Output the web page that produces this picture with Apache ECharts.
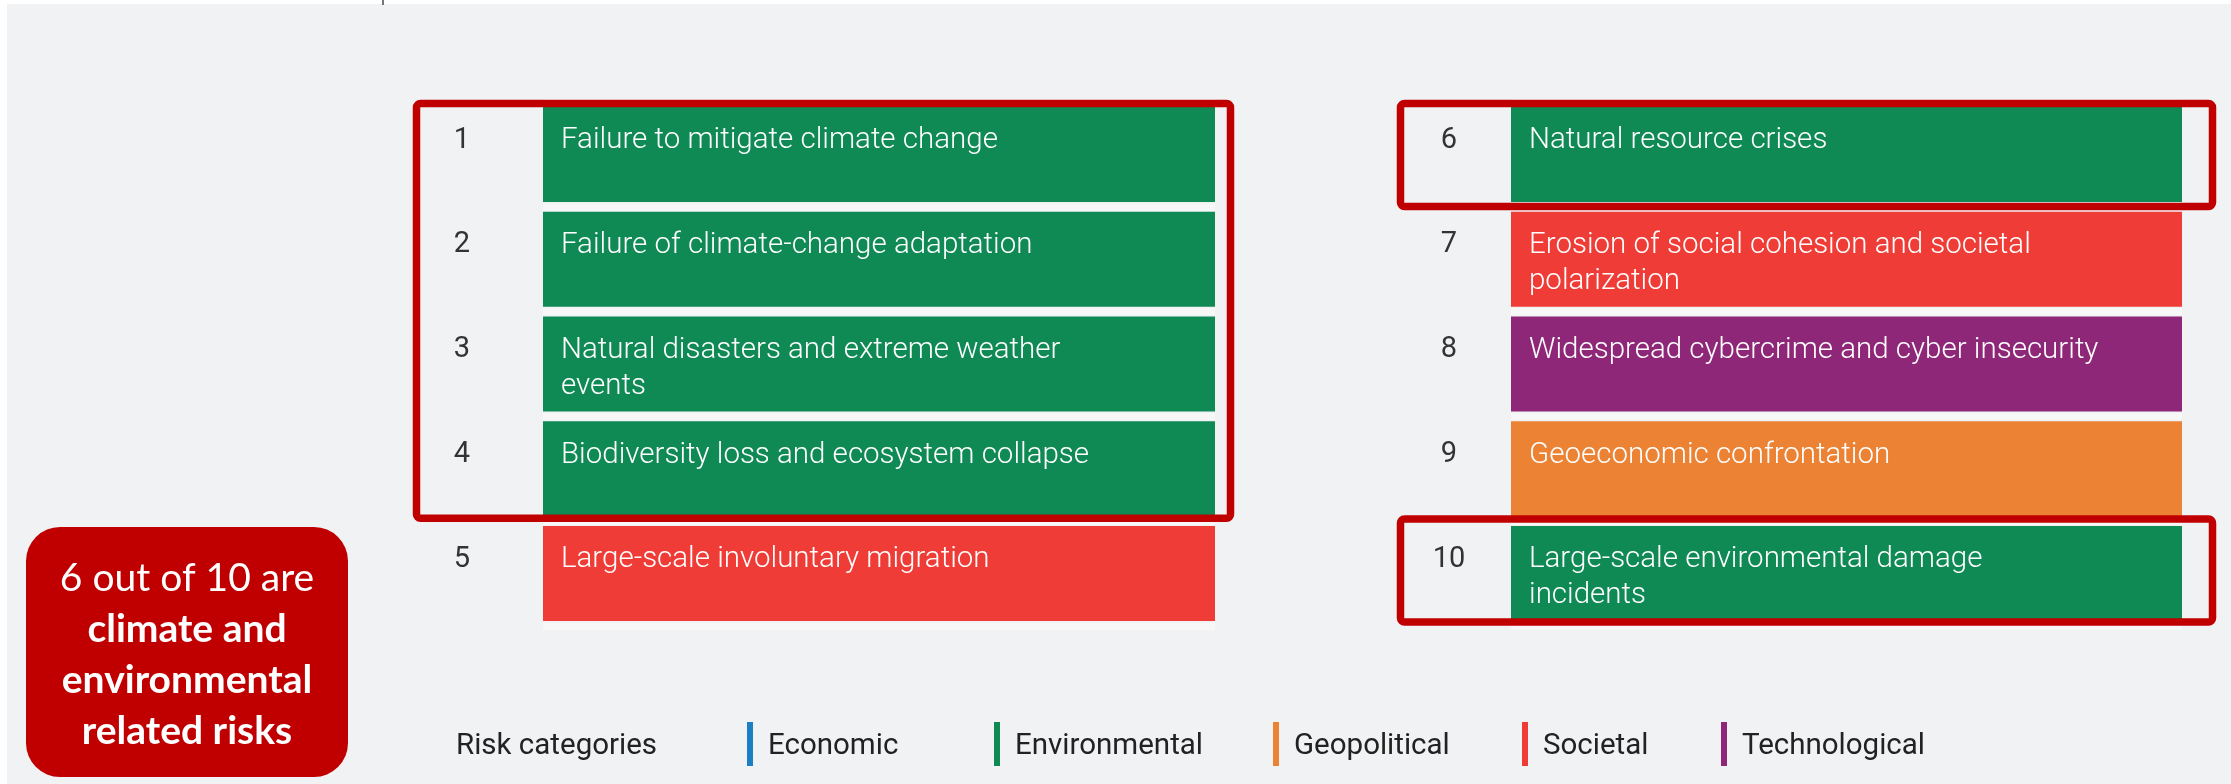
<!DOCTYPE html>
<html>
<head>
<meta charset="utf-8">
<script src="https://cdn.jsdelivr.net/npm/echarts@6/dist/echarts.min.js"></script>
<style>
html,body{margin:0;padding:0;background:#ffffff;}
#c{width:2231px;height:784px;}
</style>
</head>
<body>
<div id="c"></div>
<script>
// ---------- data ----------
const ranks = ['1','2','3','4','5','6','7','8','9','10'];
const risks = [
  'Failure to mitigate climate change',
  'Failure of climate-change adaptation',
  'Natural disasters and extreme weather\nevents',
  'Biodiversity loss and ecosystem collapse',
  'Large-scale involuntary migration',
  'Natural resource crises',
  'Erosion of social cohesion and societal\npolarization',
  'Widespread cybercrime and cyber insecurity',
  'Geoeconomic confrontation',
  'Large-scale environmental damage\nincidents'
];
const riskCategory = ['Environmental','Environmental','Environmental','Environmental','Societal',
                      'Environmental','Societal','Technological','Geopolitical','Environmental'];
const barLength = [1,1,1,1,1,1,1,1,1,1];
const categories = ['Economic','Environmental','Geopolitical','Societal','Technological'];
const categoryColors = ['#1b7fc6','#0f8a55','#ec8233','#ef3c36','#8e2777'];
const legendTitle = 'Risk categories';
const calloutLines = ['6 out of 10 are','climate and','environmental','related risks'];
// highlighted rank ranges (inclusive, 1-based)
const highlighted = [[1,4],[6,6],[10,10]];

// ---------- layout ----------
const GRID_TOP = 102, GRID_H = 524, BAR_W = 95;
const grids = [
  {left: 543, width: 672, numMargin: 81},
  {left: 1511, width: 671, numMargin: 62}
];
const FONT = 'Roboto';

const chart = echarts.init(document.getElementById('c'), null, {renderer: 'canvas'});

const series = [];
grids.forEach((g, gi) => {
  categories.forEach((cat, ci) => {
    const data = [];
    for (let k = 0; k < 5; k++) {
      const idx = gi * 5 + k;
      data.push(riskCategory[idx] === cat ? barLength[idx] : '-');
    }
    series.push({
      type: 'bar',
      name: cat,
      xAxisIndex: gi,
      yAxisIndex: gi,
      data: data,
      barWidth: BAR_W,
      barGap: '-100%',
      itemStyle: {color: categoryColors[ci]},
      silent: true,
      label: {
        show: true,
        position: [18, 16],
        color: '#ffffff',
        fontFamily: FONT,
        fontWeight: 300,
        fontSize: 29.5,
        lineHeight: 36,
        formatter: p => risks[gi * 5 + p.dataIndex]
      }
    });
  });
});

const legends = [];
const legendLefts = [747, 994, 1273, 1522, 1721];
categories.forEach((cat, ci) => {
  legends.push({
    data: [cat],
    left: legendLefts[ci],
    top: 722,
    padding: 0,
    icon: 'rect',
    itemWidth: 6,
    itemHeight: 44,
    selectedMode: false,
    formatter: '{t|{name}}',
    textStyle: {
      color: '#222', fontFamily: FONT, fontSize: 29.5, fontWeight: 400, padding: [0, 0, 0, 10],
      rich: {t: {color: '#222', fontFamily: FONT, fontSize: 29.5, fontWeight: 400, padding: [6, 0, 0, 0]}}
    }
  });
});

const option = {
  backgroundColor: 'transparent',
  animation: false,
  grid: grids.map(g => ({left: g.left, width: g.width, top: GRID_TOP, height: GRID_H, containLabel: false})),
  xAxis: grids.map((g, gi) => ({gridIndex: gi, type: 'value', min: 0, max: 1, show: false})),
  yAxis: grids.map((g, gi) => ({
    gridIndex: gi,
    type: 'category',
    inverse: true,
    data: ranks.slice(gi * 5, gi * 5 + 5),
    axisLine: {show: false},
    axisTick: {show: false},
    splitLine: {show: true, lineStyle: {color: '#f6f7f6', width: 7}},
    axisLabel: {
      margin: g.numMargin,
      align: 'center',
      verticalAlign: 'bottom',
      lineHeight: 28,
      color: '#333',
      fontFamily: FONT,
      fontSize: 29
    }
  })),
  legend: legends,
  series: series,
  graphic: [
    {type: 'rect', z: -10, silent: true, shape: {x: 7, y: 4, width: 2231, height: 784}, style: {fill: '#f1f2f4'}},
    {type: 'line', silent: true, shape: {x1: 383, y1: 0, x2: 383, y2: 5}, style: {stroke: '#777', lineWidth: 2}},
    {type: 'text', silent: true, x: 456, y: 747,
      style: {text: legendTitle, fill: '#222', font: '400 29.5px ' + FONT, textVerticalAlign: 'middle', textAlign: 'left'}},
    {type: 'group', silent: true, children: [
      {type: 'rect', shape: {x: 26, y: 527, width: 322, height: 250, r: 34}, style: {fill: '#c00000'}},
      {type: 'text', x: 187, y: 655, style: {
        text: '{a|' + calloutLines[0] + '}\n' + calloutLines.slice(1).map(s => '{b|' + s + '}').join('\n'),
        textAlign: 'center', textVerticalAlign: 'middle',
        rich: {
          a: {fill: '#fff', fontFamily: 'Lato', fontWeight: 400, fontSize: 39, lineHeight: 51},
          b: {fill: '#fff', fontFamily: 'Lato', fontWeight: 700, fontSize: 39, lineHeight: 51}
        }
      }}
    ]}
  ]
};
chart.setOption(option);

// ---------- annotation boxes derived from the axes ----------
const boxPads = [
  {l: 126.5, r: 15.5, t: 3.5, b: 2},
  {l: 110.5, r: 30.5, t: 3.5, b: 4.5},
  {l: 110.5, r: 30.5, t: 7, b: 1}
];
const boxes = highlighted.map((rg, bi) => {
  const gi = rg[0] <= 5 ? 0 : 1;
  const g = grids[gi];
  const y1 = chart.convertToPixel({yAxisIndex: gi}, (rg[0] - 1) % 5) - BAR_W / 2;
  const y2 = chart.convertToPixel({yAxisIndex: gi}, (rg[1] - 1) % 5) + BAR_W / 2;
  const p = boxPads[bi];
  const x1 = g.left - p.l, x2 = g.left + g.width + p.r;
  return {
    type: 'rect', z: 100, silent: true,
    shape: {x: x1, y: y1 - p.t, width: x2 - x1, height: (y2 + p.b) - (y1 - p.t), r: 4},
    style: {fill: 'none', stroke: '#c00000', lineWidth: 7.5}
  };
});
chart.setOption({graphic: option.graphic.concat(boxes)});
</script>
</body>
</html>
